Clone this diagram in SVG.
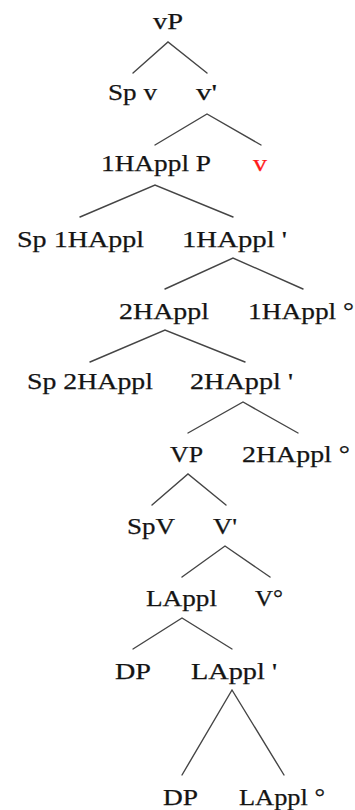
<svg xmlns="http://www.w3.org/2000/svg" width="355" height="810" viewBox="0 0 355 810">
  <style>
    text { font-family: "Liberation Serif", "Times New Roman", serif; font-size: 24px; fill: #141414; stroke: #141414; stroke-width: 0.25; }
    .hl { fill: #ff1a1a; stroke: #ff1a1a; }
    .edge { stroke: #454545; stroke-width: 1.4; fill: none; stroke-linecap: round; }
  </style>
  <rect width="355" height="810" fill="#ffffff"/>

  <!-- branches -->
  <g id="connectors">
    <path class="edge" d="M133,73 L168,42 L207,73"/>
    <path class="edge" d="M155,145 L207,114 L261,145"/>
    <path class="edge" d="M80,217 L155,185 L233,217"/>
    <path class="edge" d="M165,289 L233,258 L303,289"/>
    <path class="edge" d="M90,362 L165,330 L245,362"/>
    <path class="edge" d="M188,433 L243,402 L298,433"/>
    <path class="edge" d="M152,505 L188,474 L226,505"/>
    <path class="edge" d="M182,577 L225,546 L270,577"/>
    <path class="edge" d="M133,649 L182,618 L232,649"/>
    <path class="edge" d="M182,775 L232,690 L284,775"/>
  </g>

  <!-- tree nodes -->
  <g id="vP"><text x="153" y="28.5" textLength="30" lengthAdjust="spacingAndGlyphs">vP</text></g>
  <g id="Spv"><text x="108" y="100" textLength="49" lengthAdjust="spacingAndGlyphs">Sp v</text></g>
  <g id="vbar"><text x="196" y="100" textLength="21" lengthAdjust="spacingAndGlyphs">v'</text></g>
  <g id="HAppl1P"><text x="101" y="171" textLength="110" lengthAdjust="spacingAndGlyphs">1HAppl P</text></g>
  <g id="v-head"><text class="hl" x="253" y="171" textLength="14" lengthAdjust="spacingAndGlyphs">v</text></g>
  <g id="SpHAppl1"><text x="17" y="247" textLength="127" lengthAdjust="spacingAndGlyphs">Sp 1HAppl</text></g>
  <g id="HAppl1bar"><text x="182" y="247" textLength="105" lengthAdjust="spacingAndGlyphs">1HAppl '</text></g>
  <g id="HAppl2"><text x="119" y="319" textLength="90" lengthAdjust="spacingAndGlyphs">2HAppl</text></g>
  <g id="HAppl1head"><text x="248" y="319" textLength="106" lengthAdjust="spacingAndGlyphs">1HAppl °</text></g>
  <g id="SpHAppl2"><text x="27" y="389" textLength="126" lengthAdjust="spacingAndGlyphs">Sp 2HAppl</text></g>
  <g id="HAppl2bar"><text x="190" y="389" textLength="103" lengthAdjust="spacingAndGlyphs">2HAppl '</text></g>
  <g id="VP"><text x="170" y="462" textLength="33" lengthAdjust="spacingAndGlyphs">VP</text></g>
  <g id="HAppl2head"><text x="242" y="462" textLength="108" lengthAdjust="spacingAndGlyphs">2HAppl °</text></g>
  <g id="SpV"><text x="127" y="534" textLength="48" lengthAdjust="spacingAndGlyphs">SpV</text></g>
  <g id="Vbar"><text x="213" y="534" textLength="24" lengthAdjust="spacingAndGlyphs">V'</text></g>
  <g id="LAppl"><text x="146" y="606" textLength="71" lengthAdjust="spacingAndGlyphs">LAppl</text></g>
  <g id="Vhead"><text x="255" y="606" textLength="28" lengthAdjust="spacingAndGlyphs">V°</text></g>
  <g id="DP1"><text x="115" y="679" textLength="36" lengthAdjust="spacingAndGlyphs">DP</text></g>
  <g id="LApplbar"><text x="191" y="679" textLength="86" lengthAdjust="spacingAndGlyphs">LAppl '</text></g>
  <g id="DP2"><text x="163" y="805" textLength="35" lengthAdjust="spacingAndGlyphs">DP</text></g>
  <g id="LApplhead"><text x="239" y="805" textLength="86" lengthAdjust="spacingAndGlyphs">LAppl °</text></g>
</svg>
